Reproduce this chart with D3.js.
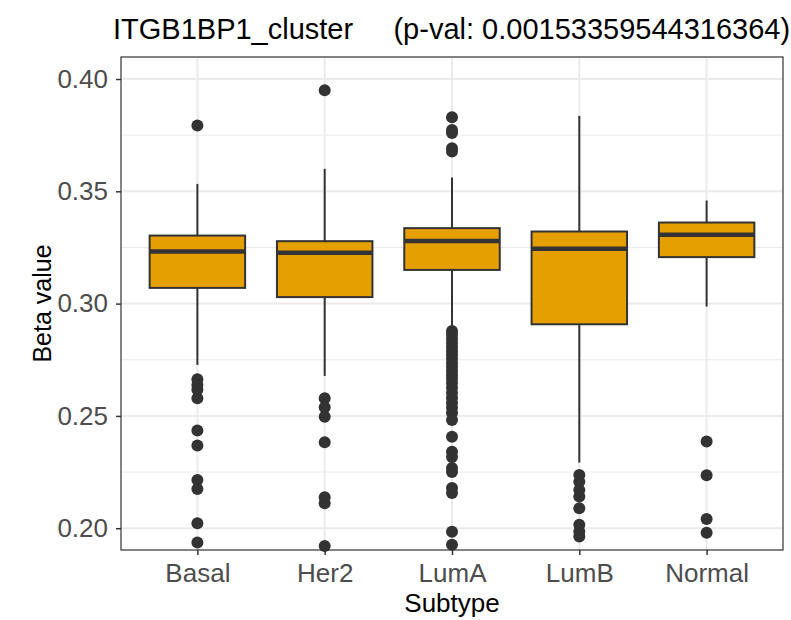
<!DOCTYPE html>
<html>
<head>
<meta charset="utf-8">
<script src="https://cdn.jsdelivr.net/npm/d3@7"></script>
<style>
  body { margin: 0; background: #fff; }
  text { font-family: "Liberation Sans", Arial, sans-serif; }
</style>
</head>
<body>
<svg id="chart" width="791" height="620"></svg>
<script>
  // The data:
  var SUBTYPES = ["Basal", "Her2", "LumA", "LumB", "Normal"];
  var Q1 = [0.3070, 0.3029, 0.3150, 0.2908, 0.3207];
  var MEDIAN = [0.3232, 0.3227, 0.3279, 0.3244, 0.3307];
  var Q3 = [0.3303, 0.3278, 0.3336, 0.3321, 0.3361];
  var WHISKER_LO = [0.2727, 0.2678, 0.2883, 0.2292, 0.2987];
  var WHISKER_HI = [0.3533, 0.3600, 0.3561, 0.3836, 0.3459];

  var OUT_BASAL = [0.3793, 0.2663, 0.2638, 0.2616, 0.2579, 0.2435, 0.2368,
                   0.2215, 0.2175, 0.2022, 0.1936];
  var OUT_HER2 = [0.3950, 0.2579, 0.2539, 0.2496, 0.2383, 0.2138, 0.2111, 0.1921];
  var OUT_LUMA = [0.3830, 0.3773, 0.3760, 0.3692, 0.3677,
                  0.2878, 0.2861, 0.2843, 0.2825, 0.2807, 0.2789, 0.2772,
                  0.2754, 0.2736, 0.2718, 0.2700, 0.2682, 0.2665, 0.2647,
                  0.2625, 0.2602, 0.2580, 0.2558, 0.2536, 0.2513, 0.2482,
                  0.2407, 0.2340, 0.2317, 0.2268, 0.2250, 0.2179, 0.2157,
                  0.1984, 0.1926];
  var OUT_LUMB = [0.2237, 0.2207, 0.2170, 0.2141, 0.2089, 0.2015, 0.1985, 0.1963];
  var OUT_NORMAL = [0.2386, 0.2236, 0.2041, 0.1980];
  var OUTLIERS = [OUT_BASAL, OUT_HER2, OUT_LUMA, OUT_LUMB, OUT_NORMAL];

  var Y_TICKS = [0.20, 0.25, 0.30, 0.35, 0.40];
  var Y_MINOR = [0.225, 0.275, 0.325, 0.375];

  var TITLE = "ITGB1BP1_cluster     (p-val: 0.00153359544316364)";

  // Panel geometry
  var LEFT = 121, RIGHT = 783, TOP = 57, BOTTOM = 550;
  var DARK = "#333333";
  var FILL = "#E69F00";
  var GRID = "#EBEBEB";

  var svg = d3.select("#chart");

  var x = d3.scalePoint()
    .domain(SUBTYPES)
    .range([LEFT, RIGHT])
    .padding(0.6);
  var step = x.step();
  var boxW = step * 0.75;

  var y = d3.scaleLinear()
    .domain([0.1903, 0.4098])
    .range([BOTTOM, TOP]);

  // grid
  var grid = svg.append("g");
  grid.selectAll(".minor").data(Y_MINOR).enter().append("line")
    .attr("x1", LEFT).attr("x2", RIGHT)
    .attr("y1", function (d) { return y(d); })
    .attr("y2", function (d) { return y(d); })
    .attr("stroke", GRID).attr("stroke-width", 1);
  grid.selectAll(".major").data(Y_TICKS).enter().append("line")
    .attr("x1", LEFT).attr("x2", RIGHT)
    .attr("y1", function (d) { return y(d); })
    .attr("y2", function (d) { return y(d); })
    .attr("stroke", GRID).attr("stroke-width", 2);
  grid.selectAll(".vmajor").data(SUBTYPES).enter().append("line")
    .attr("x1", function (d) { return x(d); })
    .attr("x2", function (d) { return x(d); })
    .attr("y1", TOP).attr("y2", BOTTOM)
    .attr("stroke", GRID).attr("stroke-width", 2);

  // boxes
  var boxes = svg.append("g").selectAll("g").data(SUBTYPES).enter().append("g");

  boxes.append("line")
    .attr("x1", function (d) { return x(d); })
    .attr("x2", function (d) { return x(d); })
    .attr("y1", function (d, i) { return y(WHISKER_HI[i]); })
    .attr("y2", function (d, i) { return y(Q3[i]); })
    .attr("stroke", DARK).attr("stroke-width", 2);
  boxes.append("line")
    .attr("x1", function (d) { return x(d); })
    .attr("x2", function (d) { return x(d); })
    .attr("y1", function (d, i) { return y(Q1[i]); })
    .attr("y2", function (d, i) { return y(WHISKER_LO[i]); })
    .attr("stroke", DARK).attr("stroke-width", 2);
  boxes.append("rect")
    .attr("x", function (d) { return x(d) - boxW / 2; })
    .attr("width", boxW)
    .attr("y", function (d, i) { return y(Q3[i]); })
    .attr("height", function (d, i) { return y(Q1[i]) - y(Q3[i]); })
    .attr("fill", FILL)
    .attr("stroke", DARK).attr("stroke-width", 2);
  boxes.append("line")
    .attr("x1", function (d) { return x(d) - boxW / 2; })
    .attr("x2", function (d) { return x(d) + boxW / 2; })
    .attr("y1", function (d, i) { return y(MEDIAN[i]); })
    .attr("y2", function (d, i) { return y(MEDIAN[i]); })
    .attr("stroke", DARK).attr("stroke-width", 4.5);

  boxes.each(function (d, i) {
    d3.select(this).selectAll("circle").data(OUTLIERS[i]).enter().append("circle")
      .attr("cx", x(d))
      .attr("cy", function (v) { return y(v); })
      .attr("r", 6)
      .attr("fill", DARK);
  });

  // panel border
  svg.append("rect")
    .attr("x", LEFT).attr("y", TOP)
    .attr("width", RIGHT - LEFT).attr("height", BOTTOM - TOP)
    .attr("fill", "none").attr("stroke", DARK).attr("stroke-width", 1.2);

  // axes
  var yAxis = svg.append("g")
    .attr("transform", "translate(" + LEFT + ",0)")
    .call(d3.axisLeft(y).tickValues(Y_TICKS).tickFormat(d3.format(".2f"))
      .tickSize(5).tickPadding(8));
  var xAxis = svg.append("g")
    .attr("transform", "translate(0," + BOTTOM + ")")
    .call(d3.axisBottom(x).tickSize(5).tickPadding(9));
  [xAxis, yAxis].forEach(function (ax) {
    ax.select(".domain").remove();
    ax.selectAll(".tick line").attr("stroke", DARK).attr("stroke-width", 1.5);
    ax.selectAll(".tick text")
      .attr("fill", "#4D4D4D")
      .style("font-size", "26px")
      .style("font-family", "'Liberation Sans', Arial, sans-serif");
  });

  // titles
  svg.append("text")
    .attr("x", LEFT - 8).attr("y", 39)
    .attr("fill", "#000")
    .style("font-size", "29px")
    .style("white-space", "pre")
    .text(TITLE);
  svg.append("text")
    .attr("x", (LEFT + RIGHT) / 2).attr("y", 612)
    .attr("text-anchor", "middle")
    .style("font-size", "26px")
    .text("Subtype");
  svg.append("text")
    .attr("transform", "translate(51," + (TOP + BOTTOM) / 2 + ") rotate(-90)")
    .attr("text-anchor", "middle")
    .style("font-size", "25px")
    .text("Beta value");
</script>
</body>
</html>
